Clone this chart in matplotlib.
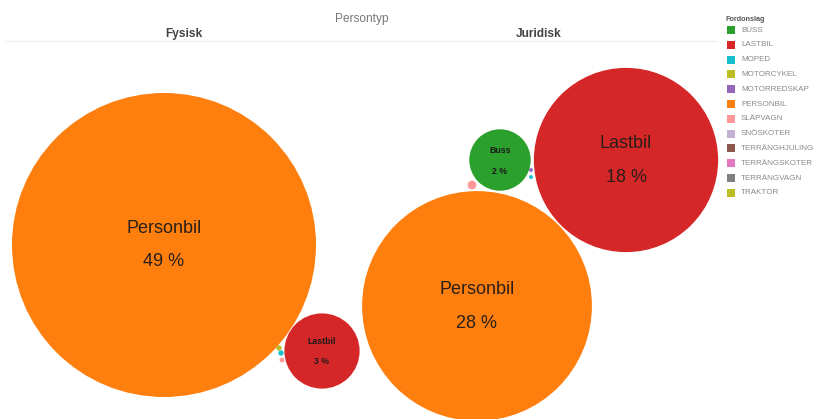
import matplotlib
matplotlib.use("Agg")
import matplotlib.pyplot as plt
from matplotlib.patches import Circle, Rectangle
import numpy as np

# ---- data ----
legend_title = "Fordonslag"
legend_categories = ["BUSS", "LASTBIL", "MOPED", "MOTORCYKEL", "MOTORREDSKAP", "PERSONBIL",
                     "SLÄPVAGN", "SNÖSKOTER", "TERRÄNGHJULING", "TERRÄNGSKOTER", "TERRÄNGVAGN", "TRAKTOR"]
legend_colors = ["#2ca02c", "#d62728", "#17becf", "#bcbd22", "#9467bd", "#ff7f0e",
                 "#ff9896", "#c5b0d5", "#8c564b", "#e377c2", "#7f7f7f", "#bcbd22"]

header_title = "Persontyp"
panels = ["Fysisk", "Juridisk"]

fysisk_cats = ["PERSONBIL", "LASTBIL", "MOTORCYKEL", "MOPED", "SLÄPVAGN"]
fysisk_values = [49, 3, 0.015, 0.015, 0.012]
fysisk_labels = ["Personbil", "Lastbil", "", "", ""]

juridisk_cats = ["PERSONBIL", "LASTBIL", "BUSS", "SLÄPVAGN", "MOTORREDSKAP", "MOPED"]
juridisk_values = [28, 18, 2, 0.04, 0.008, 0.008]
juridisk_labels = ["Personbil", "Lastbil", "Buss", "", "", ""]

# ---- layout (pixel positions of packed bubbles) ----
fysisk_pos = [(164, 245), (322, 351), (279, 348), (281, 353), (282, 360)]
juridisk_pos = [(477, 306), (626, 160), (500, 160), (472, 185), (531, 170), (531, 177)]
R_MAX_PX = 152  # radius for the largest value
V_MAX = max(fysisk_values)

W, H = 814, 419
fig = plt.figure(figsize=(W / 100, H / 100), dpi=100)
ax = fig.add_axes([0, 0, 1, 1])
ax.set_xlim(0, W)
ax.set_ylim(H, 0)
ax.set_aspect("equal")
ax.axis("off")

color_of = dict(zip(legend_categories, legend_colors))
font = "Liberation Sans"

def draw_panel(cats, vals, labels, pos):
    for c, v, lab, (x, y) in zip(cats, vals, labels, pos):
        r = R_MAX_PX * np.sqrt(v / V_MAX)
        ax.add_patch(Circle((x, y), r, facecolor=color_of[c], edgecolor="none"))
        if lab:
            pct = f"{v:g} %"
            if r > 60:
                ax.text(x, y - 17, lab, ha="center", va="center", fontsize=13,
                        color="#2a1f18", family=font)
                ax.text(x, y + 17, pct, ha="center", va="center", fontsize=13,
                        color="#2a1f18", family=font)
            else:
                ax.text(x, y - 10, lab, ha="center", va="center", fontsize=6.3,
                        color="#1a1a1a", family=font, fontweight="bold")
                ax.text(x, y + 11, pct, ha="center", va="center", fontsize=6.3,
                        color="#1a1a1a", family=font, fontweight="bold")

draw_panel(fysisk_cats, fysisk_values, fysisk_labels, fysisk_pos)
draw_panel(juridisk_cats, juridisk_values, juridisk_labels, juridisk_pos)

# header
ax.text(362, 19, header_title, ha="center", va="center", fontsize=8.6, color="#777777", family=font)
ax.text(184, 34, panels[0], ha="center", va="center", fontsize=8.6, color="#444444",
        family=font, fontweight="bold")
ax.text(539, 34, panels[1], ha="center", va="center", fontsize=8.6, color="#444444",
        family=font, fontweight="bold")
ax.plot([6, 717], [41.5, 41.5], color="#eeeeee", lw=0.8)

# legend
ax.text(725, 19, legend_title, ha="left", va="center", fontsize=5.2, color="#555555",
        family=font, fontweight="bold")
for i, (c, col) in enumerate(zip(legend_categories, legend_colors)):
    y = 30 + i * 14.8
    ax.add_patch(Rectangle((727, y - 4), 8, 8, facecolor=col, edgecolor="none"))
    ax.text(741, y, c, ha="left", va="center", fontsize=5.8, color="#8a8a8a", family=font)

fig.savefig("out.png", dpi=100)
